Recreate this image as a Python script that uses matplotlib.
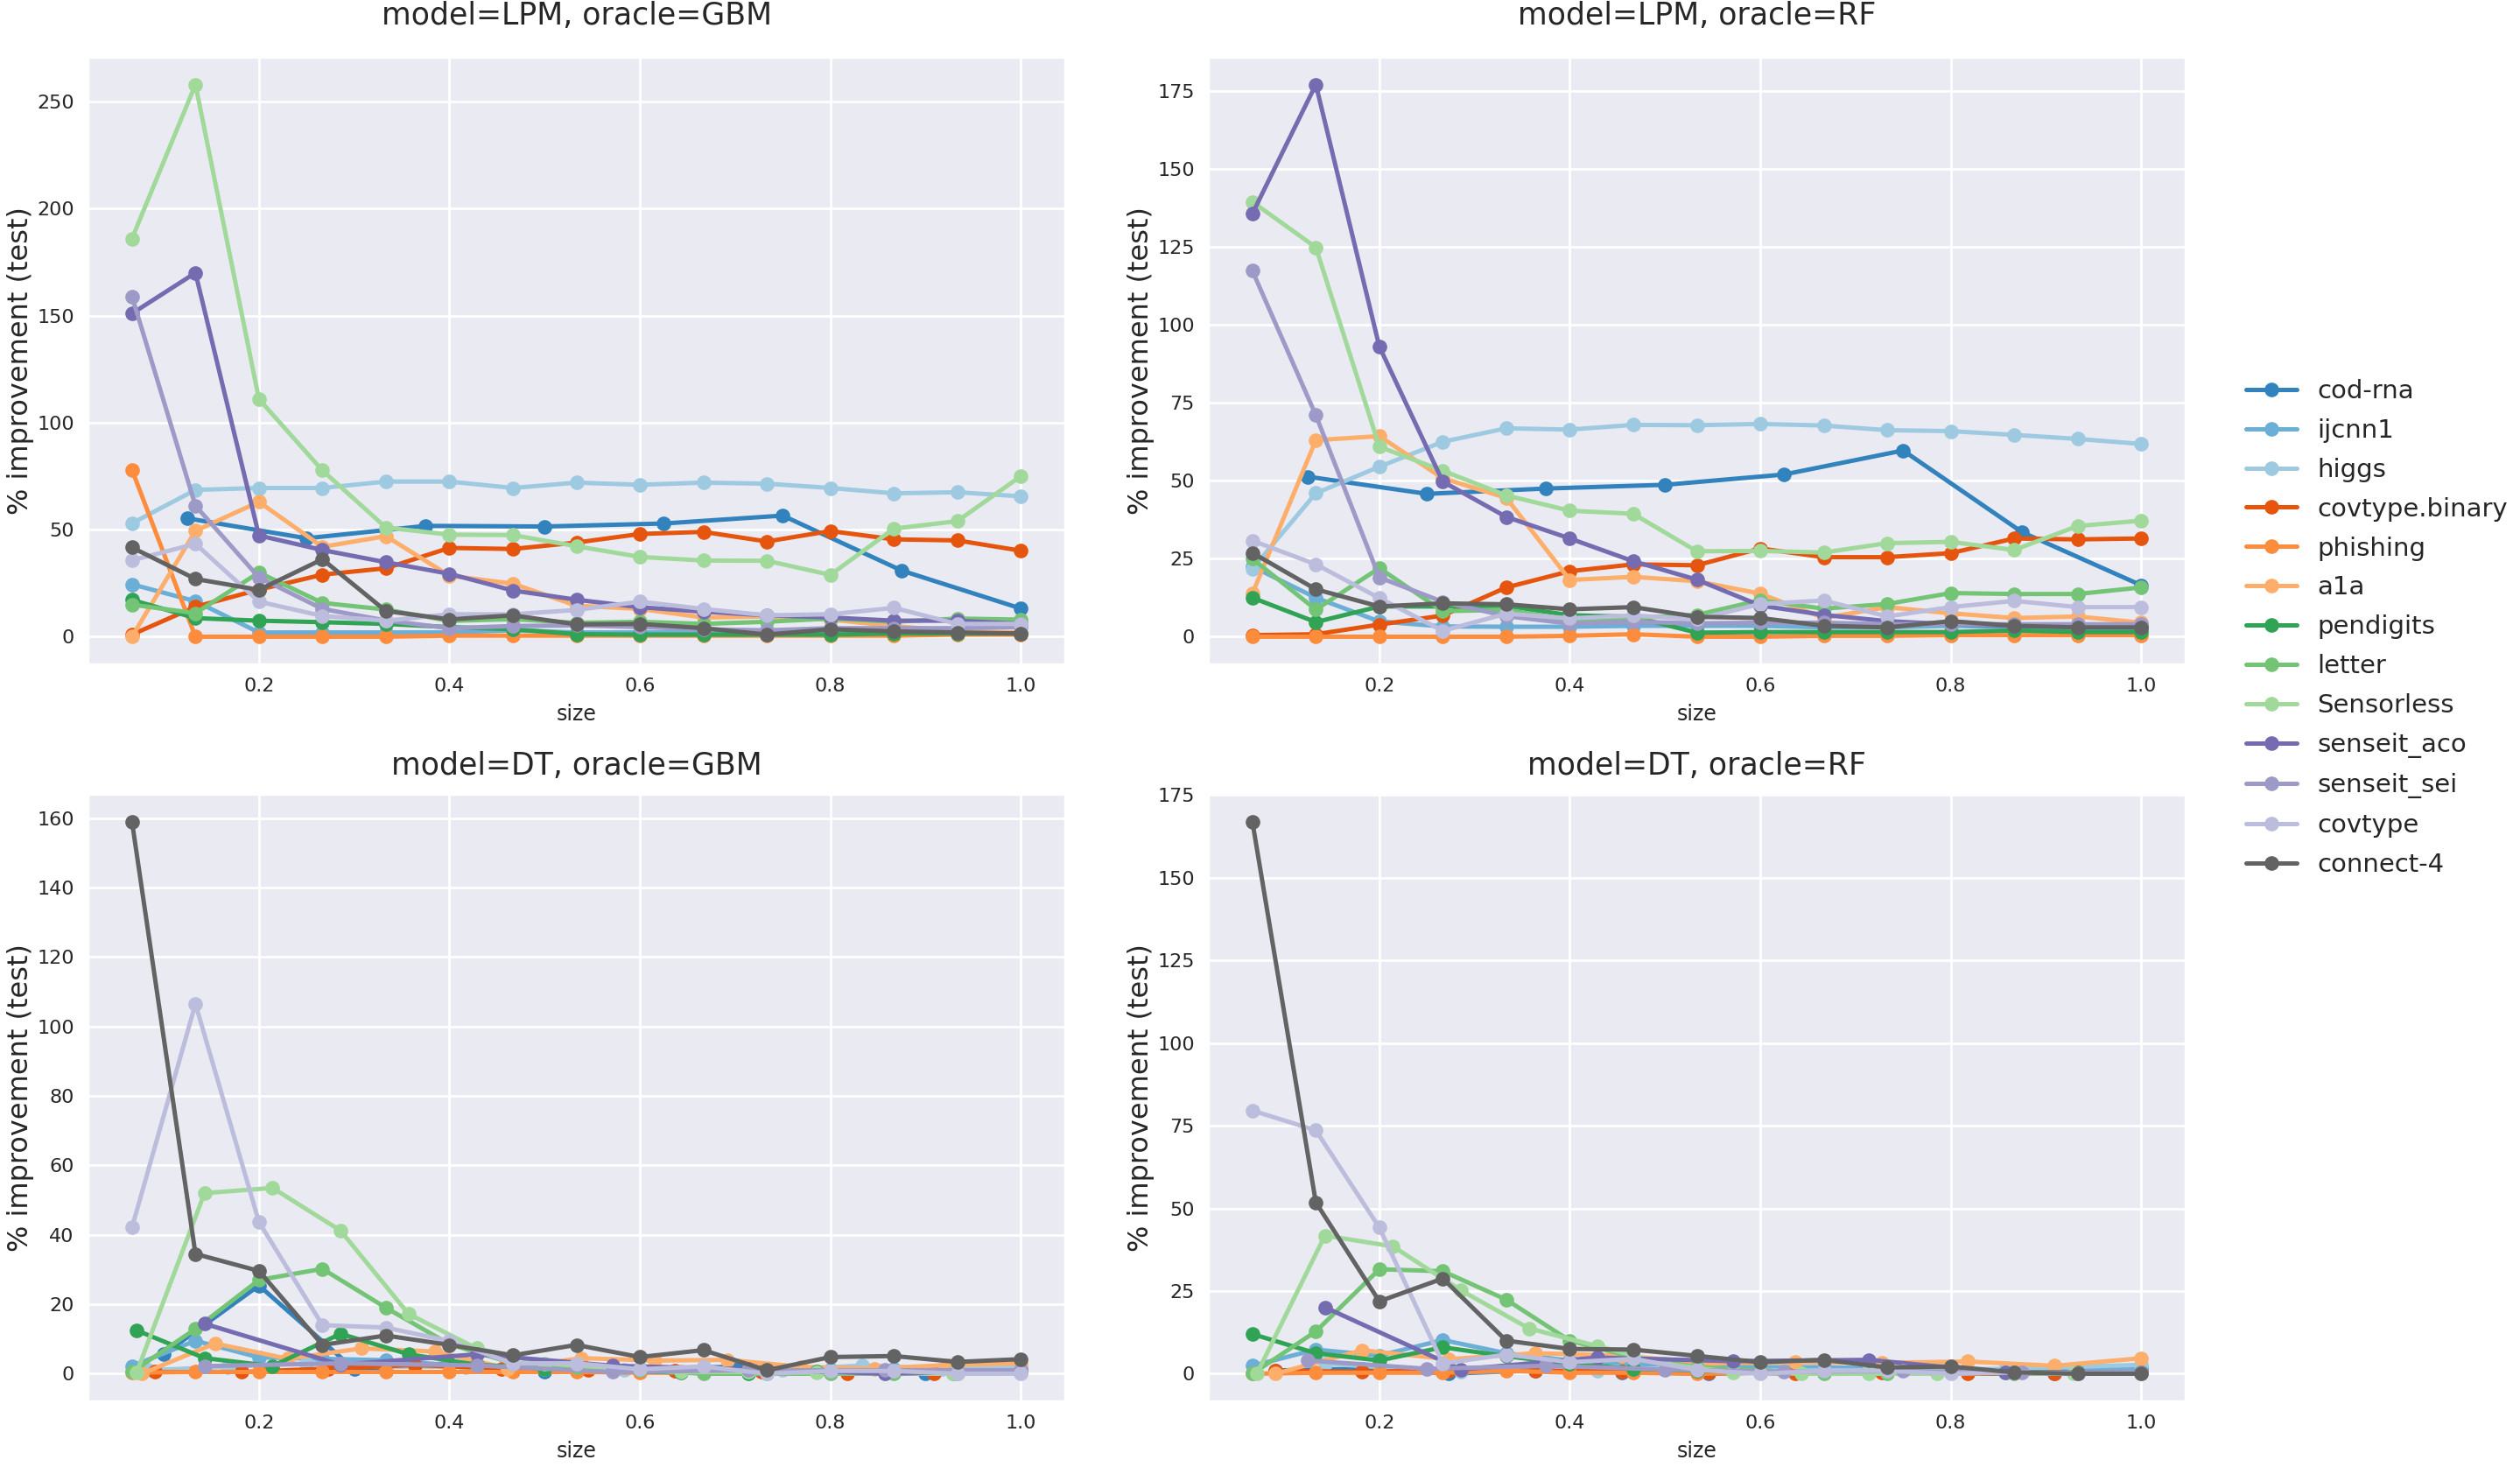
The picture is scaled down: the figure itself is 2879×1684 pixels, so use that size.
import matplotlib
matplotlib.use("Agg")
import matplotlib.pyplot as plt
import seaborn as sns
from matplotlib.ticker import MultipleLocator

sns.set_theme(style="darkgrid")
plt.rcParams["font.family"] = ["DejaVu Sans"]

datasets = ["cod-rna", "ijcnn1", "higgs", "covtype.binary", "phishing", "a1a",
            "pendigits", "letter", "Sensorless", "senseit_aco", "senseit_sei",
            "covtype", "connect-4"]
colors = ["#3182bd", "#6baed6", "#9ecae1", "#e6550d", "#fd8d3c", "#fdae6b",
          "#31a354", "#74c476", "#a1d99b", "#756bb1", "#9e9ac8", "#bcbddc",
          "#636363"]

# training-set size grids (fraction of data) used by the different runs
s15 = [i / 15 for i in range(1, 16)]
s14 = [i / 14 for i in range(1, 15)]
s13 = [i / 13 for i in range(1, 14)]
s12 = [i / 12 for i in range(1, 13)]
s11 = [i / 11 for i in range(1, 12)]
s10 = [i / 10 for i in range(1, 11)]
s8 = [i / 8 for i in range(1, 9)]
s7 = [i / 7 for i in range(1, 8)]

lpm_gbm = {
    "cod-rna": (s8, [55.3, 46, 51.8, 51.5, 52.9, 56.6, 30.9, 13.2]),
    "ijcnn1": (s15, [24.5, 16.6, 2, 2, 2, 2, 3, 2, 2, 2, 2, 2, 2, 2, 2]),
    "higgs": (s15, [53, 68.6, 69.5, 69.5, 72.5, 72.5, 69.5, 72, 71, 72, 71.5, 69.5, 67, 67.5, 65.6]),
    "covtype.binary": (s15, [1, 14, 22, 29, 32, 41.5, 41, 44, 48, 49, 44.5, 49.4, 45.5, 45, 40.2]),
    "phishing": (s15, [78, 0, 0, 0, 0, 0.5, 0.5, 0.5, 0.5, 0.5, 0.5, 0.5, 0.5, 1, 1]),
    "a1a": (s15, [0, 49.5, 63, 42, 47, 28.5, 24.8, 14.5, 13, 9, 9.5, 8, 5, 2.5, 2]),
    "pendigits": (s15, [17.2, 8.7, 7.5, 6.8, 6, 4.5, 3.5, 1.2, 1, 1, 1, 1, 1.5, 1.5, 1.5]),
    "letter": (s15, [15, 11, 30, 15.8, 12.7, 7.4, 8.2, 6.5, 7, 6, 7, 8.5, 7, 8.5, 8]),
    "Sensorless": (s15, [186, 258, 111, 77.7, 51, 47.7, 47.5, 42.3, 37.3, 35.6, 35.5, 28.9, 50.5, 54, 75]),
    "senseit_aco": (s15, [151, 170, 47.3, 40.5, 34.8, 29.4, 21.6, 17.3, 13.8, 11.7, 10, 9, 7.5, 7.5, 6]),
    "senseit_sei": (s15, [159, 61.2, 27.7, 13, 7.6, 4, 5, 5.3, 4.5, 3.5, 3, 4, 4, 4, 4.5]),
    "covtype": (s15, [35.7, 43.4, 16.4, 9.7, 7.5, 10.5, 10.5, 12.5, 16.4, 13, 10, 10.5, 13.5, 6, 6]),
    "connect-4": (s15, [41.7, 27, 21.9, 36.2, 12, 8.1, 10, 5.8, 6, 4, 1, 3.5, 2.5, 2, 1.5]),
}

lpm_rf = {
    "cod-rna": (s8, [51.3, 45.8, 47.5, 48.7, 52, 59.7, 33.5, 16.5]),
    "ijcnn1": (s15, [22.5, 12.5, 4.9, 3.3, 3.2, 3.2, 3.5, 3.5, 3.5, 3, 3, 3.5, 3, 2.5, 2.5]),
    "higgs": (s15, [21.8, 46, 54.5, 62.5, 66.8, 66.4, 67.9, 67.8, 68.2, 67.7, 66.2, 65.9, 64.7, 63.4, 61.8]),
    "covtype.binary": (s15, [0.5, 0.8, 3.9, 6.8, 15.8, 21, 23.2, 22.9, 28.3, 25.5, 25.5, 26.8, 31.5, 31.2, 31.5]),
    "phishing": (s15, [0, 0, 0, 0, 0, 0.3, 0.8, 0, 0, 0.3, 0.3, 0.5, 0.5, 0.5, 0.5]),
    "a1a": (s15, [13.8, 63, 64.3, 50.8, 44.5, 18.2, 19.2, 17.8, 13.8, 6, 9.5, 7.5, 6, 6.5, 4.5]),
    "pendigits": (s15, [12.5, 4.7, 9.7, 9.7, 9.9, 6.9, 6.4, 1.3, 1.5, 1.5, 1.5, 1.5, 2, 1.5, 1.5]),
    "letter": (s15, [25, 8.7, 22, 8.2, 8.6, 5.3, 6, 7, 11.7, 9, 10.5, 14, 13.7, 13.7, 15.8]),
    "Sensorless": (s15, [139.4, 124.8, 60.9, 53.2, 45.3, 40.4, 39.4, 27.4, 27.5, 27, 30, 30.4, 27.8, 35.5, 37.2]),
    "senseit_aco": (s15, [135.6, 177, 93, 49.7, 38.4, 31.5, 24.2, 18.3, 10, 7, 5, 4, 3.5, 3.5, 3.5]),
    "senseit_sei": (s15, [117.3, 71, 19, 11.2, 6.6, 4.2, 4.8, 4.3, 4.5, 4.5, 4, 4, 4, 4, 4]),
    "covtype": (s15, [30.8, 23.2, 12.4, 1.9, 7.4, 5.9, 6.8, 5.6, 10.5, 11.6, 6.5, 9.5, 11.5, 9.5, 9.5]),
    "connect-4": (s15, [26.9, 15.2, 9.7, 10.7, 10.4, 8.8, 9.5, 6.4, 6, 3.5, 3, 5, 3.5, 3, 3]),
}

dt_gbm = {
    "cod-rna": (s10, [5.6, 25.4, 1.3, 3, 0.5, 1.5, 2, 1, 0, 1]),
    "ijcnn1": (s15, [2.2, 9.5, 4.7, 4.3, 3.9, 2.5, 1.5, 1, 1.5, 1, 0.5, 1, 1.5, 1, 1.5]),
    "higgs": (s12, [1, 2, 3, 2, 2, 1.5, 1, 1, 1, 2.4, 1.5, 2]),
    "covtype.binary": (s11, [0.5, 0.5, 1.5, 2.5, 1.5, 1, 0.8, 0.5, 0, 0, 1]),
    "phishing": (s15, [0.3, 0.5, 0.5, 0.5, 0.5, 0.5, 0.5, 0.5, 0.3, 0.3, 0.3, 0.5, 0.5, 0.5, 0.5]),
    "a1a": (s13, [0, 8.7, 4.3, 7.3, 6.4, 1.5, 4.5, 3.8, 4, 2, 1.5, 2.5, 3]),
    "pendigits": (s14, [12.5, 4.5, 2.2, 11.5, 5.6, 2.6, 1.5, 1, 0.3, 0, 0.5, 0.5, 0, 0.5]),
    "letter": (s15, [0.5, 12.9, 27, 30.2, 19, 8.5, 3, 2, 1, 0, 0, 0, 0, 0, 0.5]),
    "Sensorless": (s14, [0.3, 52, 53.5, 41.2, 17.2, 7.3, 3, 1.5, 0.5, 0.5, 0.3, 0, 0, 0.3]),
    "senseit_aco": (s7, [14.4, 2.6, 5.6, 2.3, 1.3, 0, 0.8]),
    "senseit_sei": (s7, [2.2, 3, 2.4, 0.5, 1, 1, 1]),
    "covtype": (s15, [42.1, 106.5, 43.7, 14, 13.3, 9.4, 3, 3, 1.3, 2.1, 0, 0.8, 0.8, 0, 0]),
    "connect-4": (s15, [159, 34.5, 29.6, 8.3, 11, 8.3, 5.3, 8.3, 4.8, 6.8, 1, 4.8, 5.1, 3.4, 4.2]),
}

dt_rf = {
    "cod-rna": (s11, [1, 1.5, 0, 1, 0.5, 0, 0.5, 1, 0.5, 0, 1.5]),
    "ijcnn1": (s15, [2.4, 7.3, 5.5, 10.2, 6.2, 4, 3, 2.5, 2, 2, 1.5, 1.5, 1, 1, 2]),
    "higgs": (s7, [3, 0.6, 1, 1, 1, 1.5, 2.7]),
    "covtype.binary": (s11, [0.9, 0.6, 1, 0.9, 0.7, 0.5, 0, 0.5, 0, 0, 0.3]),
    "phishing": (s15, [0, 0.3, 0.3, 0.3, 0.9, 0.3, 0.3, 0, 0.3, 0.3, 0.3, 0.5, 0.5, 0.5, 0.5]),
    "a1a": (s11, [0, 7.1, 4.4, 6.2, 5.5, 3.1, 3.5, 3.3, 3.7, 2.4, 4.7]),
    "pendigits": (s15, [12, 6.2, 4, 8, 5.3, 3, 1.5, 1, 0.5, 0.5, 0.5, 0.5, 0.5, 0.5, 0.5]),
    "letter": (s15, [0, 12.8, 31.6, 31, 22.4, 10, 5, 2, 1, 0, 0, 0.5, 0, 0, 0]),
    "Sensorless": (s14, [0, 41.8, 38.5, 25.2, 13.7, 8.4, 3, 0.4, 0, 0, 0, 0.3, 0, 0.5]),
    "senseit_aco": (s7, [20.1, 1.3, 4.9, 3.8, 4.2, 0.3, 0.5]),
    "senseit_sei": (s8, [4, 1.5, 2.4, 1.3, 0.6, 0.8, 0.3, 0.5]),
    "covtype": (s15, [79.6, 73.6, 44.2, 3.1, 5.8, 3.5, 4.5, 1.2, 0, 0.9, 0.9, 0, 0.4, 0, 0]),
    "connect-4": (s15, [167, 51.8, 21.9, 28.8, 10, 7.5, 7.3, 5.4, 3.5, 4.2, 1.9, 2.2, 0.4, 0, 0]),
}

panels = [
    ("model=LPM, oracle=GBM", lpm_gbm, 50),
    ("model=LPM, oracle=RF", lpm_rf, 25),
    ("model=DT, oracle=GBM", dt_gbm, 20),
    ("model=DT, oracle=RF", dt_rf, 25),
]

fig = plt.figure(figsize=(14.395, 8.42), dpi=200)
W, H = 2879, 1684
lefts = [100, 1380, 100, 1380]
tops = [65, 65, 907, 907]
aw, ah = 1117, 694

for i, (title, data, step) in enumerate(panels):
    ax = fig.add_axes([lefts[i] / W, 1 - (tops[i] + ah) / H, aw / W, ah / H])
    for name, col in zip(datasets, colors):
        xs, ys = data[name]
        ax.plot(xs, ys, color=col, lw=1.8, marker="o", ms=6, mew=0, label=name)
    ax.yaxis.set_major_locator(MultipleLocator(step))
    ax.xaxis.set_major_locator(MultipleLocator(0.2))
    ax.tick_params(labelsize=8, length=0, pad=5.5)
    ax.set_xlabel("size", fontsize=8.5, labelpad=3.5)
    ax.set_ylabel("% improvement (test)", fontsize=11.5, labelpad=1)
    ax.set_title(title, fontsize=12.5, pad=13.5 if i < 2 else 8)

handles, labels = ax.get_legend_handles_labels()
fig.legend(handles, labels, loc="center left", bbox_to_anchor=(0.882, 0.574),
           frameon=False, fontsize=10.5, labelspacing=0.58)

fig.savefig("out.png", dpi=200)
